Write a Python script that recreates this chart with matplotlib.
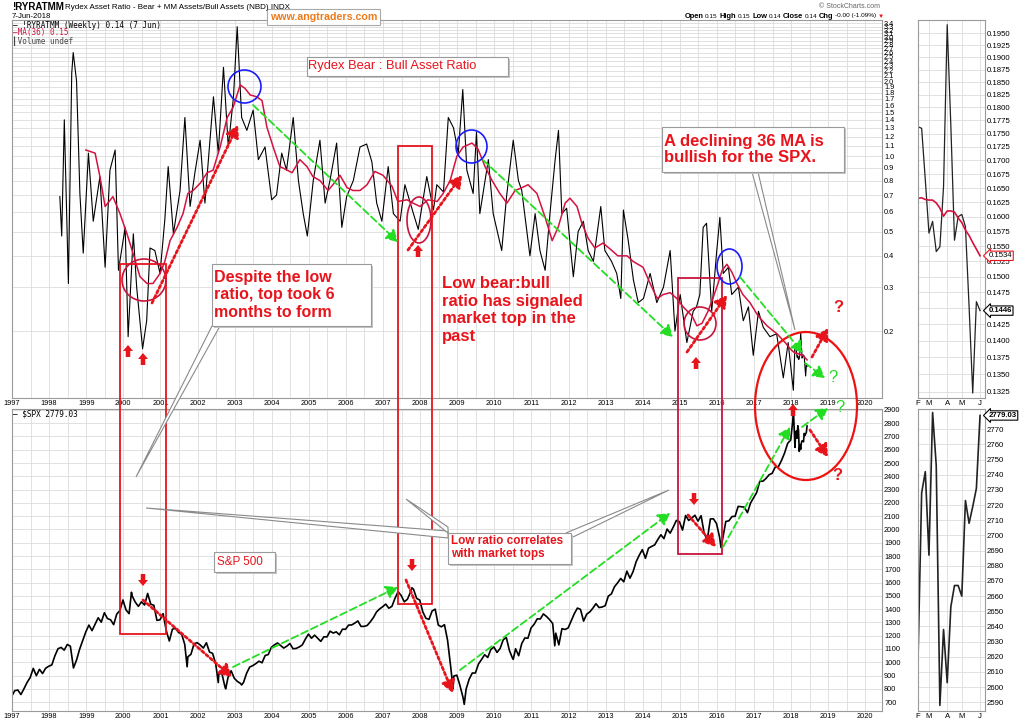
import matplotlib
matplotlib.use('Agg')
import matplotlib.pyplot as plt
import matplotlib.patches as mpatches
import numpy as np
from matplotlib.ticker import FixedLocator, FixedFormatter, NullLocator, NullFormatter

plt.rcParams['font.family'] = ['Liberation Sans', 'DejaVu Sans']
MONO = ['DejaVu Sans Mono', 'DejaVu Sans']

W, H = 1024, 723
RED = '#e8141c'
MA_RED = '#d4123e'
BOX3_RED = '#c8143c'
GREEN = '#22dd22'
BLUE = '#1a1aff'
GRID = '#dcdcdc'
EDGE = '#9a9a9a'

# ---------------- data ----------------
# Rydex bear:bull ratio, weekly, turning points (decimal years) up to Jan 2018
ratio_t = [1998.29, 1998.34, 1998.41, 1998.52, 1998.61, 1998.65, 1998.74, 1998.83, 1998.92, 1999.06,
           1999.19, 1999.37, 1999.51, 1999.64, 1999.78, 1999.87, 2000.05, 2000.13, 2000.27, 2000.36,
           2000.52, 2000.63, 2000.72, 2000.85, 2000.99, 2001.12, 2001.21, 2001.35, 2001.53, 2001.66,
           2001.80, 2001.93, 2002.07, 2002.20, 2002.43, 2002.56, 2002.70, 2002.83, 2002.97, 2003.07,
           2003.19, 2003.33, 2003.50, 2003.64, 2003.82, 2004.00, 2004.13, 2004.27, 2004.40, 2004.58,
           2004.72, 2004.85, 2004.96, 2005.12, 2005.30, 2005.44, 2005.57, 2005.75, 2005.89, 2006.02,
           2006.20, 2006.38, 2006.56, 2006.70, 2006.83, 2006.97, 2007.14, 2007.28, 2007.46, 2007.59,
           2007.82, 2007.95, 2008.18, 2008.36, 2008.45, 2008.63, 2008.76, 2008.90, 2009.03, 2009.15,
           2009.26, 2009.43, 2009.52, 2009.61, 2009.75, 2009.84, 2009.97, 2010.20, 2010.33, 2010.51,
           2010.65, 2010.74, 2010.96, 2011.10, 2011.23, 2011.37, 2011.50, 2011.64, 2011.73, 2011.82,
           2011.95, 2012.13, 2012.26, 2012.40, 2012.53, 2012.67, 2012.87, 2012.98, 2013.16, 2013.30,
           2013.41, 2013.48, 2013.61, 2013.75, 2013.88, 2014.02, 2014.20, 2014.38, 2014.56, 2014.74,
           2014.87, 2015.01, 2015.19, 2015.36, 2015.45, 2015.54, 2015.63, 2015.72, 2015.86, 2015.99,
           2016.08, 2016.17, 2016.31, 2016.40, 2016.58, 2016.71, 2016.85, 2016.98, 2017.12, 2017.25,
           2017.43, 2017.61, 2017.79, 2017.92, 2018.06]
ratio_v = [0.69, 0.48, 1.40, 0.31, 2.15, 2.6, 2.0, 0.71, 0.41, 1.03,
           0.55, 0.83, 0.36, 0.88, 1.06, 0.35, 0.52, 0.19, 0.49, 0.30,
           0.17, 0.22, 0.43, 0.42, 0.34, 0.56, 0.91, 0.49, 0.73, 1.43,
           0.63, 0.86, 1.16, 0.65, 1.73, 1.03, 2.27, 1.09, 1.73, 3.3,
           1.43, 1.27, 1.53, 0.97, 1.09, 0.67, 0.70, 1.03, 0.88, 1.43,
           0.80, 0.59, 0.48, 0.80, 1.16, 0.65, 0.80, 1.13, 0.52, 0.69,
           0.80, 1.09, 1.12, 0.95, 0.65, 0.55, 0.91, 0.59, 0.55, 0.77,
           0.59, 0.51, 0.83, 0.61, 0.77, 0.72, 1.43, 1.30, 1.03, 1.85,
           0.88, 0.71, 1.25, 0.59, 0.80, 0.97, 0.59, 0.42, 0.69, 1.16,
           0.80, 0.73, 0.40, 0.59, 0.42, 0.35, 0.59, 0.97, 1.27, 0.59,
           0.62, 0.33, 0.50, 0.55, 0.42, 0.38, 0.63, 0.42, 0.38, 0.34,
           0.27, 0.61, 0.46, 0.32, 0.26, 0.27, 0.34, 0.26, 0.30, 0.42,
           0.20, 0.28, 0.18, 0.24, 0.25, 0.28, 0.52, 0.54, 0.24, 0.41,
           0.57, 0.34, 0.36, 0.28, 0.30, 0.22, 0.25, 0.16, 0.24, 0.207,
           0.19, 0.195, 0.13, 0.18, 0.116]

# MA(36) of the ratio
ma_t = [1998.99, 1999.24, 1999.37, 1999.51, 1999.72, 1999.91, 2000.10, 2000.26, 2000.45, 2000.64,
        2000.80, 2000.99, 2001.12, 2001.26, 2001.45, 2001.61, 2001.74, 2001.88, 2002.07, 2002.26,
        2002.42, 2002.61, 2002.80, 2002.96, 2003.15, 2003.28, 2003.42, 2003.60, 2003.74, 2003.87,
        2004.04, 2004.22, 2004.36, 2004.55, 2004.76, 2004.95, 2005.11, 2005.30, 2005.52, 2005.65,
        2005.84, 2006.03, 2006.19, 2006.38, 2006.57, 2006.78, 2007.00, 2007.24, 2007.40, 2007.65,
        2007.81, 2008.00, 2008.21, 2008.46, 2008.62, 2008.81, 2008.99, 2009.16, 2009.40, 2009.56,
        2009.75, 2009.94, 2010.15, 2010.34, 2010.56, 2010.75, 2010.91, 2011.15, 2011.37, 2011.56,
        2011.72, 2011.91, 2012.04, 2012.23, 2012.36, 2012.53, 2012.71, 2012.93, 2013.17, 2013.33,
        2013.58, 2013.74, 2014.01, 2014.20, 2014.39, 2014.55, 2014.74, 2014.92, 2015.09, 2015.33,
        2015.46, 2015.60, 2015.76, 2015.89, 2016.03, 2016.14, 2016.27, 2016.40, 2016.54, 2016.70,
        2016.89, 2017.11, 2017.35, 2017.62, 2017.84, 2017.97]
ma_v = [1.06, 1.03, 0.83, 0.63, 0.69, 0.59, 0.49, 0.41, 0.33, 0.31,
        0.31, 0.34, 0.38, 0.46, 0.52, 0.59, 0.71, 0.73, 0.78, 0.86,
        0.88, 1.09, 1.43, 1.57, 1.93, 1.87, 1.76, 1.73, 1.67, 1.31,
        1.09, 0.91, 0.89, 0.86, 0.97, 0.91, 0.83, 0.80, 0.73, 0.77,
        0.84, 0.75, 0.73, 0.73, 0.77, 0.87, 0.84, 0.76, 0.66, 0.67,
        0.65, 0.63, 0.67, 0.66, 0.71, 0.80, 1.0, 1.09, 1.13, 1.07,
        0.91, 0.80, 0.71, 0.65, 0.73, 0.75, 0.77, 0.71, 0.57, 0.46,
        0.52, 0.65, 0.68, 0.63, 0.54, 0.47, 0.43, 0.45, 0.42, 0.40,
        0.40, 0.38, 0.36, 0.31, 0.27, 0.28, 0.285, 0.27, 0.25, 0.23,
        0.21, 0.215, 0.24, 0.27, 0.31, 0.35, 0.37, 0.345, 0.31, 0.28,
        0.26, 0.23, 0.21, 0.195, 0.18, 0.17]

# S&P 500 month-end closes, Jan 1997 - Jan 2018
spx_monthly = [786, 791, 757, 801, 848, 885, 954, 899, 947, 915, 955, 970,
               980, 1049, 1102, 1112, 1091, 1134, 1121, 957, 1017, 1099, 1164, 1229,
               1280, 1238, 1286, 1335, 1302, 1373, 1329, 1320, 1283, 1363, 1389, 1469,
               1394, 1366, 1499, 1452, 1421, 1455, 1431, 1518, 1437, 1429, 1315, 1320,
               1366, 1240, 1160, 1249, 1256, 1224, 1211, 1134, 1041, 1060, 1139, 1148,
               1130, 1107, 1147, 1077, 1067, 990, 912, 916, 815, 886, 936, 880,
               856, 841, 848, 917, 964, 975, 990, 1008, 996, 1051, 1058, 1112,
               1131, 1145, 1126, 1107, 1121, 1141, 1102, 1104, 1115, 1130, 1174, 1212,
               1181, 1204, 1181, 1157, 1192, 1191, 1234, 1220, 1229, 1207, 1249, 1248,
               1280, 1281, 1295, 1311, 1270, 1270, 1277, 1304, 1336, 1378, 1401, 1418,
               1438, 1407, 1421, 1482, 1531, 1503, 1455, 1474, 1527, 1549, 1481, 1468,
               1379, 1331, 1323, 1386, 1400, 1280, 1267, 1283, 1166, 969, 896, 903,
               826, 735, 798, 873, 919, 919, 987, 1021, 1057, 1036, 1096, 1115,
               1074, 1104, 1169, 1187, 1089, 1031, 1102, 1049, 1141, 1183, 1181, 1258,
               1286, 1327, 1326, 1364, 1345, 1321, 1292, 1219, 1131, 1253, 1247, 1258,
               1312, 1366, 1408, 1398, 1310, 1362, 1379, 1407, 1441, 1412, 1416, 1426,
               1498, 1515, 1569, 1598, 1631, 1606, 1686, 1633, 1682, 1757, 1806, 1848,
               1783, 1859, 1872, 1884, 1924, 1960, 1931, 2003, 1972, 2018, 2068, 2059,
               1995, 2105, 2068, 2086, 2107, 2063, 2104, 1972, 1920, 2079, 2080, 2044,
               1940, 1932, 2060, 2065, 2097, 2099, 2174, 2171, 2168, 2126, 2199, 2239,
               2279, 2364, 2363, 2384, 2412, 2423, 2470, 2472, 2519, 2575, 2648, 2674,
               2824]
# weekly extremes visible between month ends
spx_extra_t = [1997.0, 2000.22, 2001.72, 2002.56, 2002.76, 2003.19, 2007.78, 2008.89, 2009.19,
               2010.51, 2011.63, 2016.11, 2018.065]
spx_extra_v = [748, 1527, 966, 847, 800, 829, 1561, 800, 683, 1022, 1124, 1864, 2872]

# last 18 weeks (8 Feb - 7 Jun 2018), shown in the zoom panels
recent_labels = ['F', 'M', 'A', 'M', 'J']
recent_label_pos = [0, 3, 8, 12, 17]
recent_ratio = [0.1763, 0.1760, 0.1665, 0.1572, 0.1592, 0.1541, 0.1549, 0.1653, 0.1968,
                0.1765, 0.1560, 0.1600, 0.1604, 0.1583, 0.1452, 0.1323, 0.1460, 0.1446]
recent_ma = [0.1632, 0.1633, 0.1630, 0.1629, 0.1629, 0.1624, 0.1615, 0.1601, 0.1610,
             0.1610, 0.1608, 0.1598, 0.1590, 0.1577, 0.1568, 0.1556, 0.1545, 0.1534]
recent_spx = [2618, 2728, 2742, 2687, 2781, 2746, 2588, 2638, 2603,
              2653, 2667, 2667, 2660, 2723, 2708, 2719, 2731, 2779.03]

years = list(range(1997, 2021))
ratio_ticks = [0.2, 0.3, 0.4, 0.5, 0.6, 0.7, 0.8, 0.9] + [round(1.0 + 0.1 * k, 1) for k in range(25)]
spx_ticks = list(range(700, 3000, 100))
zoom_ratio_ticks = [round(0.1325 + 0.0025 * k, 4) for k in range(26)]
zoom_spx_ticks = list(range(2590, 2780, 10))

# ---------------- assemble series ----------------
recent_t = [2018 + (38 + 7 * i) / 365.0 for i in range(len(recent_spx))]
spx_month_t = [1997 + (i + 1) / 12.0 - 0.01 for i in range(len(spx_monthly))]
spx_pairs = sorted(zip(spx_month_t + spx_extra_t + recent_t, spx_monthly + spx_extra_v + recent_spx))
spx_t = [p[0] for p in spx_pairs]
spx_v = [p[1] for p in spx_pairs]

fig = plt.figure(figsize=(W / 100, H / 100), dpi=100)


def px_axes(x0, y0, x1, y1):
    return fig.add_axes([x0 / W, 1 - y1 / H, (x1 - x0) / W, (y1 - y0) / H])


def style(ax):
    for s in ax.spines.values():
        s.set_color(EDGE)
        s.set_linewidth(0.8)
    ax.tick_params(which='both', length=0, labelsize=5.3, pad=1.5)
    ax.grid(True, which='both', color=GRID, lw=0.6)
    ax.set_axisbelow(True)
    ax.yaxis.tick_right()


# main ratio panel
ax1 = px_axes(12, 20, 882, 398)
ax1.plot(ratio_t + recent_t, ratio_v + recent_ratio, color='black', lw=0.8)
ax1.plot(ma_t + recent_t, ma_v + recent_ma, color=MA_RED, lw=1.1)
ax1.set_yscale('log')
ax1.set_ylim(0.108, 3.51)
ax1.set_xlim(1997, 2020.45)
ax1.yaxis.set_major_locator(FixedLocator(ratio_ticks))
ax1.yaxis.set_major_formatter(FixedFormatter([f'{v:.1f}' for v in ratio_ticks]))
ax1.yaxis.set_minor_locator(NullLocator())
ax1.yaxis.set_minor_formatter(NullFormatter())

# main S&P panel
ax2 = px_axes(12, 409, 882, 711)
ax2.plot(spx_t, spx_v, color='black', lw=1.2)
ax2.set_ylim(633, 2907)
ax2.set_xlim(1997, 2020.45)
ax2.set_yticks(spx_ticks)

for ax in (ax1, ax2):
    ax.set_xticks(years)
    ax.set_xticklabels([str(y) for y in years])
    ax.set_xticks(np.arange(1997.5, 2020.5, 1.0), minor=True)
    style(ax)

# zoom panels
idx = np.arange(len(recent_spx))
ax3 = px_axes(918, 20, 985, 398)
ax3.plot(idx, recent_ratio, color='#222222', lw=0.9)
ax3.plot(idx, recent_ma, color=MA_RED, lw=1.2)
ax3.set_yscale('log')
ax3.set_ylim(0.1316, 0.1978)
ax3.yaxis.set_major_locator(FixedLocator(zoom_ratio_ticks))
ax3.yaxis.set_major_formatter(FixedFormatter([f'{v:.4f}' for v in zoom_ratio_ticks]))
ax3.yaxis.set_minor_locator(NullLocator())
ax3.yaxis.set_minor_formatter(NullFormatter())

ax4 = px_axes(918, 409, 985, 711)
ax4.plot(idx, recent_spx, color='#222222', lw=1.2)
ax4.set_ylim(2584.3, 2783.3)
ax4.set_yticks(zoom_spx_ticks)

for ax in (ax3, ax4):
    ax.set_xlim(0, 18.36)
    ax.set_xticks(recent_label_pos)
    ax.set_xticklabels(recent_labels)
    style(ax)
    ax.tick_params(labelsize=5.6)

ax3.annotate(f'{recent_ma[-1]:.4f}', xy=(1.0, recent_ma[-1]), xycoords=('axes fraction', 'data'),
             xytext=(2.5, 0), textcoords='offset points', va='center', ha='left', fontsize=5.6,
             bbox=dict(boxstyle='larrow,pad=0.15', fc='white', ec=RED, lw=0.8))
ax3.annotate(f'{recent_ratio[-1]:.4f}', xy=(1.0, recent_ratio[-1]), xycoords=('axes fraction', 'data'),
             xytext=(2.5, 0), textcoords='offset points', va='center', ha='left', fontsize=5.6,
             fontweight='bold', bbox=dict(boxstyle='larrow,pad=0.15', fc='white', ec='black', lw=0.8))
ax4.annotate(f'{recent_spx[-1]:.2f}', xy=(1.0, recent_spx[-1]), xycoords=('axes fraction', 'data'),
             xytext=(2.5, 0), textcoords='offset points', va='center', ha='left', fontsize=5.6,
             fontweight='bold', bbox=dict(boxstyle='larrow,pad=0.15', fc='white', ec='black', lw=0.8))

# ---------------- annotation layer (pixel positions) ----------------
ov = fig.add_axes([0, 0, 1, 1])
ov.set_xlim(0, W)
ov.set_ylim(H, 0)
ov.axis('off')
ov.set_zorder(10)
renderer = fig.canvas.get_renderer()

# header
ov.text(12, 7, '!RYRATMM', fontsize=7, fontweight='bold', va='center')
ov.text(65, 7.5, 'Rydex Asset Ratio - Bear + MM Assets/Bull Assets (NBD) INDX', fontsize=5.8, va='center')
ov.text(12, 16.5, '7-Jun-2018', fontsize=5.6, va='center')
ov.text(880, 6.5, '\u00a9 StockCharts.com', fontsize=5, color='#666666', va='center', ha='right')

# quote line, laid out right to left so the runs never collide
header_bits = [('Open', True), ('0.15', False), ('High', True), ('0.15', False),
               ('Low', True), ('0.14', False), ('Close', True), ('0.14', False),
               ('Chg', True), ('-0.00 (-1.09%)', False)]
x_run = 876
for s, bold in reversed(header_bits):
    t = ov.text(x_run, 16, s, fontsize=5.4 if bold else 4.6, fontweight='bold' if bold else 'normal',
                va='center', ha='right')
    x_run -= t.get_window_extent(renderer).width + (2.0 if bold else 1.2)
ov.text(877.5, 16, '\u25bc', fontsize=4.5, color=RED, va='center')

ov.add_patch(mpatches.Rectangle((267, 9), 113, 16, fc='white', ec='#aaaaaa', lw=0.8))
ov.text(323.5, 17, 'www.angtraders.com', fontsize=7.7, fontweight='bold', color='#ee7b1c',
        ha='center', va='center')

# legends
ov.text(13, 25, '\u2014 !RYRATMM (Weekly) 0.14 (7 Jun)', family=MONO, fontsize=5.5, va='center')
ov.text(13, 33, '\u2014MA(36) 0.15', family=MONO, fontsize=5.5, va='center', color=MA_RED)
ov.text(13, 41, '\u258eVolume undef', family=MONO, fontsize=5.5, va='center', color='#444444')
ov.text(13, 414, '\u2014 $SPX 2779.03', family=MONO, fontsize=5.5, va='center')


def callout(x0, y0, x1, y1):
    ov.add_patch(mpatches.Rectangle((x0 + 2, y0 + 2), x1 - x0, y1 - y0, fc='#c4c4c4', ec='none'))
    ov.add_patch(mpatches.Rectangle((x0, y0), x1 - x0, y1 - y0, fc='white', ec='#9a9a9a', lw=0.8))


def tail(pts):
    ov.add_patch(mpatches.Polygon(pts, closed=True, fc='white', ec='#8a8a8a', lw=0.8))


# red marker rectangles spanning both panels
for (x0, y0, x1, y1), c in [((120, 264, 166, 634), RED), ((398, 146, 432, 604), RED),
                            ((678, 278, 722, 554), BOX3_RED)]:
    ov.add_patch(mpatches.Rectangle((x0, y0), x1 - x0, y1 - y0, fill=False, ec=c, lw=1.3))

# circles
for cx, cy, w, h in [(244.5, 86.5, 33, 33), (471.5, 146.5, 31, 33), (729.5, 266.5, 25, 35)]:
    ov.add_patch(mpatches.Ellipse((cx, cy), w, h, fill=False, ec=BLUE, lw=1.2))
for cx, cy, w, h in [(144, 280, 44, 42), (419, 220, 24, 46), (700, 323.5, 32, 33)]:
    ov.add_patch(mpatches.Ellipse((cx, cy), w, h, fill=False, ec=BOX3_RED, lw=1.2))
ov.add_patch(mpatches.Ellipse((806, 406), 102, 148, fill=False, ec='#ee1111', lw=1.6))

# dotted red trend arrows
for (x0, y0), (x1, y1) in [((152, 303), (238, 125)), ((408, 250), (462, 175)), ((687, 352), (727, 295)),
                           ((812, 357), (828, 328)), ((143, 600), (232, 677)), ((406, 580), (453, 693)),
                           ((688, 515), (716, 547)), ((810, 430), (828, 457))]:
    ov.annotate('', xy=(x1, y1), xytext=(x0, y0),
                arrowprops=dict(arrowstyle='-|>,head_length=0.7,head_width=0.4', color=RED, lw=2.0,
                                linestyle=(0, (1, 1)), shrinkA=0, shrinkB=0, mutation_scale=10))

# dashed green trend arrows
for (x0, y0), (x1, y1) in [((253, 105), (398, 242)), ((483, 160), (673, 337)), ((740, 277), (803, 353)),
                           ((805, 363), (825, 378)), ((233, 667), (398, 587)), ((460, 670), (670, 513)),
                           ((723, 547), (790, 427)), ((802, 427), (828, 408))]:
    ov.annotate('', xy=(x1, y1), xytext=(x0, y0),
                arrowprops=dict(arrowstyle='-|>,head_length=0.7,head_width=0.4', color=GREEN, lw=1.3,
                                linestyle=(0, (4, 2)), shrinkA=0, shrinkB=0, mutation_scale=10))

# block arrows
for x, tip in [(128, 345), (143, 353), (418, 245), (696, 357), (793, 404)]:
    ov.add_patch(mpatches.FancyArrow(x, tip + 12, 0, -12, width=4.5, head_width=10, head_length=6,
                                     length_includes_head=True, fc=RED, ec=RED, lw=0))
for x, tip in [(143, 586), (412, 571), (694, 505)]:
    ov.add_patch(mpatches.FancyArrow(x, tip - 12, 0, 12, width=4.5, head_width=10, head_length=6,
                                     length_includes_head=True, fc=RED, ec=RED, lw=0))

# question marks
ov.text(838, 307, '?', fontsize=12, fontweight='bold', color=RED, ha='center', va='center')
ov.text(837, 475, '?', fontsize=12, fontweight='bold', color=RED, ha='center', va='center')
ov.text(833, 378, '?', fontsize=12, color=GREEN, ha='center', va='center')
ov.text(840, 408, '?', fontsize=12, color=GREEN, ha='center', va='center')

# callouts
tail([(212, 326), (136, 477), (220, 326)])
callout(212, 264, 371, 326)
ov.text(214, 295, 'Despite the low\nratio, top took 6\nmonths to form', fontsize=11.5, fontweight='bold',
        color=RED, va='center', ha='left', linespacing=1.2)

ov.text(442, 310, 'Low bear:bull\nratio has signaled\nmarket top in the\npast', fontsize=12,
        fontweight='bold', color=RED, va='center', ha='left', linespacing=1.2)

tail([(752, 172), (795, 330), (758, 172)])
callout(662, 127, 844, 172)
ov.text(664, 149.5, 'A declining 36 MA is\nbullish for the SPX.', fontsize=12, fontweight='bold',
        color=RED, va='center', ha='left', linespacing=1.15)

tail([(448, 531), (146, 508), (448, 538)])
tail([(448, 527), (406, 499), (448, 533)])
tail([(566, 533), (669, 490), (571, 538)])
callout(448, 533, 571, 564)
ov.text(451, 547.5, 'Low ratio correlates\nwith market tops', fontsize=8.5, fontweight='bold',
        color=RED, va='center', ha='left', linespacing=1.1)

callout(214, 552, 275, 572)
ov.text(217, 562, 'S&P 500', fontsize=8.4, color=RED, va='center', ha='left')

callout(307, 57, 508, 76)
ov.text(308.5, 66.5, 'Rydex Bear : Bull Asset Ratio', fontsize=9.3, color=RED, va='center', ha='left')

fig.savefig('out.png', dpi=100)
